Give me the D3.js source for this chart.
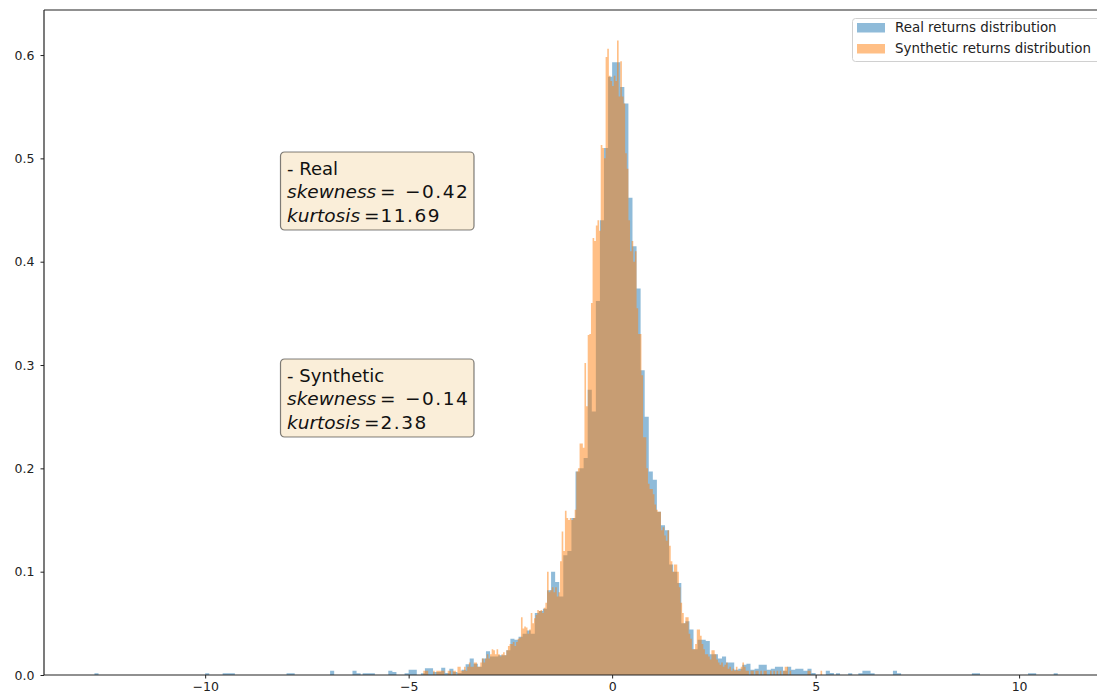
<!DOCTYPE html>
<html>
<head>
<meta charset="utf-8">
<script src="https://cdn.jsdelivr.net/npm/d3@7"></script>
<style>
  body { margin: 0; background: #fff; }
  svg { display: block; font-family: "DejaVu Sans", sans-serif; }
</style>
</head>
<body>
<div id="chart"></div>
<script>
// real returns: central bins (width 0.1, starting at -5.6) + sparse tail bins
var realStart = -5.6;
var realWidth = 0.1;
var realDensity = [
  0, .004, .003, 0, 0, .0016, .005, .005, 0, .0016,
  .0065, .0065, .003, .003, .007, .002, .006, .003, .002, .005,
  .0103, .016, .011, .008, .016, .023, .018, .018, .019, .019,
  .024, .035, .034, .037, .04, .043, .04, .06, .062, .064,
  .082, .1, .09, .076, .116, .12, .152, .197, .2, .21,
  .276, .255, .362, .44, .51, .579, .593, .593, .569, .553,
  .462, .415, .374, .295, .25, .197, .189, .158, .145, .14,
  .107, .1, .089, .05, .052, .044, .025, .034, .034, .033,
  .02, .02, .016, .018, .012, .012, .005, .006, .01, .011,
  .005, .006, .01, .01, .005, .006, .008, .008, .004, .008,
  .005, .006, .006, .004, .006, .002, 0, 0
];
var realTailX = [-12.72, -10.0, -9.57, -9.47, -9.37, -8.0, -7.9, -6.93, -6.38, -6.28, -6.13, -6.03, -5.93,
  5.25, 5.35, 5.5, 5.8, 6.05, 6.15, 6.25, 6.35, 6.9, 7.0, 8.84, 8.94, 10.22, 10.32, 10.85];
var realTailDensity = [.0016, .0016, .0016, .0016, .0016, .0016, .0016, .004, .004, .0016, .0016, .0016, .0016,
  .004, .002, .0016, .0016, .0016, .004, .004, .0016, .004, .0016, .0016, .0016, .0016, .0016, .0016];

// synthetic returns: bins of width 0.04 starting at -4.64
var synthStart = -4.64;
var synthWidth = 0.04;
var synthDensity = [
  .004, .004, .004, 0, 0, 0, .004, 0, .004, .004, .004, .004, .004, 0, 0, .004,
  .004, 0, .004, .004, 0, .008, .008, .004, .004, .008, .004, .008, .012, .008, .008, .012, .012, .008, .008, .012, .016, .012, .016, .02, .016,
  .02, .025, .024, .02, .025, .02, .018, .02, .022, .019, .024, .028, .03, .03, .032, .028, .032, .035, .036, .056, .045, .047, .046, .04, .044,
  .06, .05, .055, .058, .063, .062, .063, .06, .065, .07, .10, .08, .082, .085, .08, .085, .076, .08, .11, .139, .12, .159, .152, .15, .152,
  .15, .152, .16, .197, .2,
  .224, .224, .22, .302, .26, .329, .33, .36, .423, .42, .435, .44, .43, .513, .51, .50, .598, .606, .58, .575,
  .57, .58, .575, .614, .56, .594, .56, .553, .505, .49, .44, .41, .42, .40, .41, .355, .33, .33, .29, .23,
  .23, .2, .185, .18, .18, .175, .165, .16, .158, .158, .14, .143, .135, .13, .14, .125, .11, .1, .107, .107, .1, .085, .07, .06, .05, .056, .056, .04, .035, .025,
  .025, .03, .044, .044, .038, .03, .025, .02, .02, .018, .015, .024, .024, .02, .015, .012, .01, .012, .008, .01, .012, .006, .008, .004, .006,
  .004, .008, .004, .004, .008, .012, .008, .004, .004, 0, .004, .004, 0, .004, .004, 0, .004, 0, .004, .004, 0, 0, .004, 0, .004,
  0, .004, 0, .004, 0, .004, .008, .008, 0, .004, 0, 0, 0, 0, 0, 0, 0, 0, 0, 0, .004, .004, 0, 0, 0, 0, 0, 0, .004, 0
];

var xTicks = [-10, -5, 0, 5, 10];
var xTickLabels = ["\u221210", "\u22125", "0", "5", "10"];
var yTicks = [0, 0.1, 0.2, 0.3, 0.4, 0.5, 0.6];
var yTickLabels = ["0.0", "0.1", "0.2", "0.3", "0.4", "0.5", "0.6"];

var seriesNames = ["Real returns distribution", "Synthetic returns distribution"];
var seriesColors = ["#1f77b4", "#ff7f0e"];

var statBoxes = [
  {title: "- Real", skew: "\u22120.42", kurt: "11.69"},
  {title: "- Synthetic", skew: "\u22120.14", kurt: "2.38"}
];

var width = 1097, height = 700;
var margin = {top: 10, left: 44, bottom: 25};

var svg = d3.select("#chart").append("svg")
    .attr("width", width)
    .attr("height", height);

var x = d3.scaleLinear()
    .domain([-13.96, 12.16])
    .range([margin.left, 1107]);

var y = d3.scaleLinear()
    .domain([0, 0.6436])
    .range([height - margin.bottom, margin.top]);

// build bin lists
var realBins = realDensity.map(function (d, i) {
    var x0 = realStart + i * realWidth;
    return {x0: x0, x1: x0 + realWidth, d: d};
});
realTailX.forEach(function (v, i) {
    realBins.push({x0: v, x1: v + realWidth, d: realTailDensity[i]});
});
var synthBins = synthDensity.map(function (d, i) {
    var x0 = synthStart + i * synthWidth;
    return {x0: x0, x1: x0 + synthWidth, d: d};
});

// every bin is one rect sub-path; one path per series so neighbouring bars have no seams
function drawHist(bins, color) {
    var d = bins.filter(function (b) { return b.d > 0; }).map(function (b) {
        return "M" + x(b.x0) + "," + y(0) +
            "V" + y(b.d) + "H" + x(b.x1) + "V" + y(0) + "Z";
    }).join("");
    svg.append("path")
        .attr("d", d)
        .attr("fill", color)
        .attr("fill-opacity", 0.5);
}
drawHist(realBins, seriesColors[0]);
drawHist(synthBins, seriesColors[1]);

// axes
var yAxis = svg.append("g")
    .attr("transform", "translate(" + margin.left + ",0)")
    .call(d3.axisLeft(y).tickValues(yTicks)
        .tickFormat(function (d, i) { return yTickLabels[i]; })
        .tickSize(3.5).tickPadding(6).tickSizeOuter(0));

var xAxis = svg.append("g")
    .attr("transform", "translate(0," + y(0) + ")")
    .call(d3.axisBottom(x).tickValues(xTicks)
        .tickFormat(function (d, i) { return xTickLabels[i]; })
        .tickSize(3.5).tickPadding(3.5).tickSizeOuter(0));

[xAxis, yAxis].forEach(function (a) {
    a.select(".domain").remove();
    a.selectAll("text").attr("font-size", "12.5px").attr("fill", "#222")
        .attr("font-family", "DejaVu Sans");
    a.selectAll("line").attr("stroke", "#222").attr("stroke-width", 1);
});

// spines
svg.append("line").attr("x1", margin.left).attr("x2", margin.left)
    .attr("y1", y.range()[1]).attr("y2", y.range()[0])
    .attr("stroke", "#222").attr("stroke-width", 1.2);
svg.append("line").attr("x1", margin.left).attr("x2", width)
    .attr("y1", y.range()[0]).attr("y2", y.range()[0])
    .attr("stroke", "#222").attr("stroke-width", 1.2);
svg.append("line").attr("x1", margin.left).attr("x2", width)
    .attr("y1", y.range()[1]).attr("y2", y.range()[1])
    .attr("stroke", "#222").attr("stroke-width", 1.2);

// legend
var legend = svg.append("g").attr("transform", "translate(852.5,18.5)");
legend.append("rect")
    .attr("width", 260).attr("height", 43).attr("rx", 3)
    .attr("fill", "#fff").attr("fill-opacity", 0.8)
    .attr("stroke", "#d0d0d0");
seriesNames.forEach(function (name, i) {
    legend.append("rect")
        .attr("x", 4.5).attr("y", 4.5 + i * 21)
        .attr("width", 28).attr("height", 9.5)
        .attr("fill", seriesColors[i]).attr("fill-opacity", 0.5);
    legend.append("text")
        .attr("x", 42.5).attr("y", 13.5 + i * 21)
        .attr("font-size", "13.4px").attr("fill", "#222")
        .text(name);
});

// stats boxes
statBoxes.forEach(function (s, i) {
    var g = svg.append("g").attr("transform", "translate(280.5," + (152 + i * 207) + ")");
    g.append("rect")
        .attr("width", 193.5).attr("height", 78).attr("rx", 4)
        .attr("fill", "#f5deb3").attr("fill-opacity", 0.5)
        .attr("stroke", "#000").attr("stroke-opacity", 0.5).attr("stroke-width", 1.2);
    var t = g.append("text").attr("font-size", "18.5px").attr("fill", "#111");
    t.append("tspan").attr("x", 6.5).attr("y", 22.5).attr("font-size", "18px").text(s.title);
    t.append("tspan").attr("x", 6.5).attr("y", 46).attr("font-style", "italic").text("skewness");
    t.append("tspan").attr("x", 99.5).attr("y", 46).text("=");
    t.append("tspan").attr("x", 124.5).attr("y", 46).attr("letter-spacing", "1.5px").text(s.skew);
    t.append("tspan").attr("x", 6.5).attr("y", 69.5).attr("font-style", "italic").text("kurtosis");
    t.append("tspan").attr("x", 83.5).attr("y", 69.5).text("=");
    t.append("tspan").attr("x", 100).attr("y", 69.5).attr("letter-spacing", "1.5px").text(s.kurt);
});
</script>
</body>
</html>
